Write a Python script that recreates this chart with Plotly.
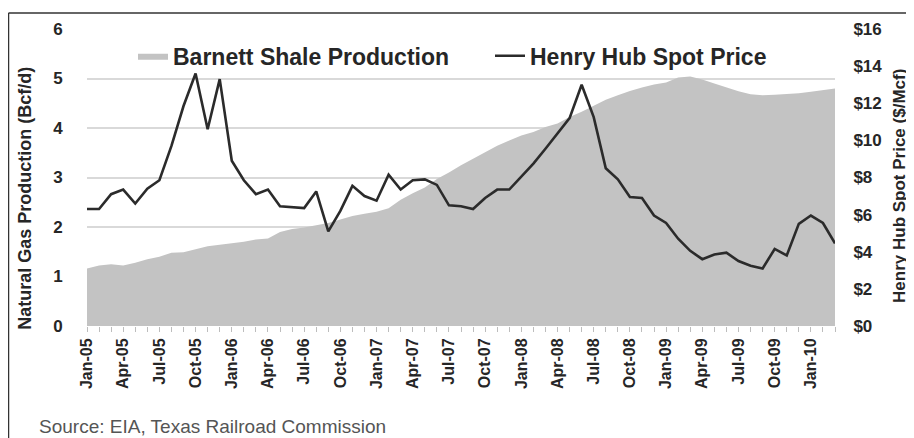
import pandas as pd
import plotly.graph_objects as go

months = list(pd.date_range("2005-01-01", periods=63, freq="MS").strftime("%b-%y"))

production = [1.16, 1.22, 1.25, 1.22, 1.28, 1.35, 1.40, 1.48, 1.49, 1.55,
              1.61, 1.64, 1.67, 1.70, 1.75, 1.77, 1.90, 1.96, 1.99, 2.03,
              2.08, 2.15, 2.22, 2.27, 2.31, 2.38, 2.55, 2.68, 2.80, 2.97,
              3.10, 3.25, 3.38, 3.50, 3.64, 3.75, 3.85, 3.92, 4.02, 4.09,
              4.22, 4.33, 4.45, 4.57, 4.66, 4.75, 4.82, 4.88, 4.92, 5.02,
              5.04, 4.98, 4.90, 4.82, 4.74, 4.68, 4.66, 4.67, 4.68, 4.70,
              4.73, 4.77, 4.80]

price = [6.3, 6.3, 7.1, 7.35, 6.6, 7.4, 7.85, 9.7, 11.85, 13.6,
         10.6, 13.3, 8.9, 7.85, 7.1, 7.35, 6.45, 6.4, 6.35, 7.25,
         5.1, 6.2, 7.55, 7.0, 6.75, 8.15, 7.35, 7.85, 7.9, 7.6,
         6.5, 6.45, 6.3, 6.9, 7.35, 7.35, 8.05, 8.75, 9.55, 10.4,
         11.2, 13.0, 11.25, 8.5, 7.9, 6.95, 6.9, 5.95, 5.55, 4.7,
         4.05, 3.6, 3.85, 3.95, 3.5, 3.25, 3.1, 4.15, 3.8, 5.5,
         5.95, 5.55, 4.45]

left_ticks = [0, 1, 2, 3, 4, 5, 6]
right_ticks = [0, 2, 4, 6, 8, 10, 12, 14, 16]
right_labels = ["$" + str(v) for v in right_ticks]
x_ticktext = [m if i % 3 == 0 else "" for i, m in enumerate(months)]

# page body has an 8px default margin
OFF = 8
W, H = 914 - OFF, 438 - OFF
L, T = 87 - OFF, 27 - OFF
R = W - (835 - OFF)
B = H - (326 - OFF)
pw, ph = W - L - R, H - T - B


def px(x):  # screen x -> paper
    return (x - OFF - L) / pw


def py(y):  # screen y -> paper
    return (H - B - (y - OFF)) / ph


LBL = "Liberation Sans, Arial"
TXT = "#262626"

fig = go.Figure()
fig.add_trace(go.Scatter(
    x=months, y=production, name="Barnett Shale Production",
    mode="lines", fill="tozeroy", fillcolor="#c3c3c3",
    line=dict(width=0, color="#c3c3c3"), yaxis="y"))
fig.add_trace(go.Scatter(
    x=months, y=price, name="Henry Hub Spot Price",
    mode="lines", line=dict(color="#2b2b2b", width=2.6), yaxis="y2"))

fig.update_layout(
    width=W, height=H,
    margin=dict(l=L, r=R, t=T, b=B),
    paper_bgcolor="white", plot_bgcolor="white",
    showlegend=True,
    legend=dict(orientation="h", x=px(133), y=py(54), xanchor="left", yanchor="middle",
                bgcolor="rgba(0,0,0,0)", font=dict(family=LBL, size=23,
                                                    color=TXT, weight="bold"),
                itemwidth=30, entrywidth=312, tracegroupgap=0),
    xaxis=dict(type="category", range=[0, len(months) - 1],
               tickmode="array", tickvals=months, ticktext=x_ticktext,
               tickangle=-90, ticks="outside", ticklen=5, tickcolor="#bdbdbd",
               showgrid=False, showline=False, zeroline=False,
               tickfont=dict(family=LBL, size=16, color=TXT, weight="bold")),
    yaxis=dict(range=[0, 6], tickvals=left_ticks, showgrid=True, gridcolor="#d9d9d9",
               gridwidth=2, zeroline=False, showline=False,
               ticks="outside", ticklen=20, tickcolor="rgba(0,0,0,0)",
               tickfont=dict(family=LBL, size=17, color=TXT, weight="bold")),
    yaxis2=dict(range=[0, 16], tickvals=right_ticks, ticktext=right_labels,
                overlaying="y", side="right", showgrid=False, zeroline=False,
                showline=False, ticks="outside", ticklen=14,
                tickcolor="rgba(0,0,0,0)",
                tickfont=dict(family=LBL, size=17, color=TXT, weight="bold")),
    annotations=[
        dict(text="Natural Gas Production (Bcf/d)", x=px(25), y=py(198),
             xref="paper", yref="paper", xanchor="center", yanchor="middle",
             textangle=-90, showarrow=False,
             font=dict(family=LBL, size=18, color=TXT, weight="bold")),
        dict(text="Henry Hub Spot Price ($/Mcf)", x=px(900), y=py(185),
             xref="paper", yref="paper", xanchor="center", yanchor="middle",
             textangle=-90, showarrow=False,
             font=dict(family=LBL, size=17, color=TXT, weight="bold")),
        dict(text="Source: EIA, Texas Railroad Commission", x=px(37), y=py(427),
             xref="paper", yref="paper", xanchor="left", yanchor="middle",
             showarrow=False, font=dict(family=LBL, size=19, color="#555555")),
    ],
    shapes=[
        dict(type="line", xref="paper", yref="paper", x0=px(8.5), x1=px(8.5),
             y0=py(11), y1=py(460), line=dict(color="#333333", width=1.5)),
        dict(type="line", xref="paper", yref="paper", x0=px(8.5), x1=px(930),
             y0=py(11), y1=py(11), line=dict(color="#333333", width=1.5)),
    ],
)

fig.write_html("out.html")
